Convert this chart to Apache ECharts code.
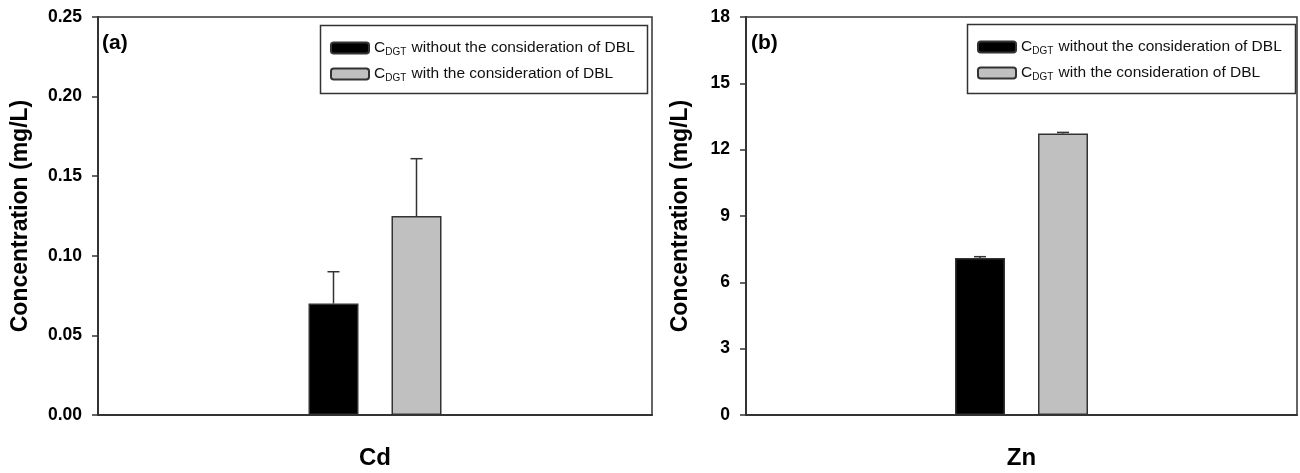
<!DOCTYPE html>
<html>
<head>
<meta charset="utf-8">
<script src="https://cdn.jsdelivr.net/npm/echarts@6/dist/echarts.min.js"></script>
<style>
  html, body { margin: 0; padding: 0; background: #fff; }
  #chart { width: 1300px; height: 473px; }
</style>
</head>
<body>
<div id="chart"></div>
<script>
  // data
  var seriesNames = ['CDGT without the consideration of DBL', 'CDGT with the consideration of DBL'];
  var cdCats = ['Cd'];
  var znCats = ['Zn'];
  var cdWithout = [0.070];
  var cdWith = [0.125];
  var cdWithoutErr = [0.090];
  var cdWithErr = [0.161];
  var znWithout = [7.10];
  var znWith = [12.73];
  var znWithoutErr = [7.16];
  var znWithErr = [12.78];
  var cdTicks = [0, 0.05, 0.10, 0.15, 0.20, 0.25];
  var znTicks = [0, 3, 6, 9, 12, 15, 18];

  var FONT = 'Liberation Sans';
  var BAR_W = 50;
  var BAR_GAP = 33;

  var chart = echarts.init(document.getElementById('chart'));

  // upper error bar, drawn from bar top to the error value
  function errRender(slot) {
    return function (params, api) {
      var top = api.coord([api.value(0), api.value(2)]);
      var base = api.coord([api.value(0), api.value(1)]);
      var off = (slot === 0 ? -1 : 1) * (BAR_W + BAR_GAP) / 2;
      var x = base[0] + off;
      var st = { stroke: '#333', lineWidth: 1.5 };
      return {
        type: 'group',
        children: [
          { type: 'line', shape: { x1: x, y1: base[1], x2: x, y2: top[1] }, style: st },
          { type: 'line', shape: { x1: x - 6, y1: top[1], x2: x + 6, y2: top[1] }, style: st }
        ]
      };
    };
  }

  function errData(vals, errs) {
    return vals.map(function (v, i) { return [i, v, errs[i]]; });
  }

  function yAxisOpt(gridIndex, ticks, gap, fmt) {
    return {
      type: 'value',
      gridIndex: gridIndex,
      min: ticks[0],
      max: ticks[ticks.length - 1],
      interval: ticks[1] - ticks[0],
      name: 'Concentration (mg/L)',
      nameLocation: 'middle',
      nameGap: gap,
      nameTextStyle: { fontFamily: FONT, fontWeight: 'bold', fontSize: 23, color: '#000' },
      axisLine: { show: true, lineStyle: { color: '#333', width: 2 } },
      axisTick: { show: true, inside: false, length: 6, lineStyle: { color: '#333', width: 1.5 } },
      axisLabel: { fontFamily: FONT, fontWeight: 'bold', fontSize: 17.5, color: '#000', margin: 16, formatter: fmt },
      splitLine: { show: false }
    };
  }

  function xAxisOpt(gridIndex, cats) {
    return {
      type: 'category',
      gridIndex: gridIndex,
      data: cats,
      axisLine: { show: true, lineStyle: { color: '#333', width: 2 } },
      axisTick: { show: false },
      axisLabel: { fontFamily: FONT, fontWeight: 'bold', fontSize: 24, color: '#000', margin: 31 }
    };
  }

  function barSeries(name, xi, data, color) {
    return {
      name: name,
      type: 'bar',
      xAxisIndex: xi,
      yAxisIndex: xi,
      data: data,
      barWidth: BAR_W,
      barGap: (BAR_GAP / BAR_W * 100) + '%',
      itemStyle: { color: color, borderColor: '#333', borderWidth: 1.5 },
      emphasis: { disabled: true }
    };
  }

  function legendOpt(left, top) {
    return {
      left: left,
      top: top,
      padding: 0,
      orient: 'vertical',
      itemWidth: 38,
      itemHeight: 11,
      itemGap: 8,
      data: seriesNames,
      selectedMode: false,
      textStyle: {
        fontFamily: FONT, fontSize: 15.5, color: '#111', lineHeight: 16,
        rich: {
          s: { fontFamily: FONT, fontSize: 10, color: '#111', lineHeight: 16, padding: [8, 1, 0, 0] }
        }
      },
      formatter: function (name) {
        return 'C{s|DGT}' + name.slice(4);
      }
    };
  }

  chart.setOption({
    animation: false,
    backgroundColor: '#fff',
    grid: [
      { left: 98, top: 17, width: 554, height: 398, show: true, borderColor: '#333', borderWidth: 1.5 },
      { left: 746, top: 17, width: 551, height: 398, show: true, borderColor: '#333', borderWidth: 1.5 }
    ],
    title: [
      { text: '(a)', left: 102, top: 33, padding: 0, textStyle: { fontFamily: FONT, fontWeight: 'bold', fontSize: 21, color: '#000' } },
      { text: '(b)', left: 751, top: 33, padding: 0, textStyle: { fontFamily: FONT, fontWeight: 'bold', fontSize: 21, color: '#000' } }
    ],
    legend: [legendOpt(330, 39), legendOpt(977, 38)],
    graphic: [
      { type: 'rect', shape: { x: 320.5, y: 25.5, width: 327, height: 68 }, style: { fill: 'none', stroke: '#333', lineWidth: 1.5 }, z: 10 },
      { type: 'rect', shape: { x: 967.5, y: 24.5, width: 328, height: 69 }, style: { fill: 'none', stroke: '#333', lineWidth: 1.5 }, z: 10 }
    ],
    xAxis: [xAxisOpt(0, cdCats), xAxisOpt(1, znCats)],
    yAxis: [
      yAxisOpt(0, cdTicks, 66, function (v) { return v.toFixed(2); }),
      yAxisOpt(1, znTicks, 54, function (v) { return String(v); })
    ],
    series: [
      barSeries(seriesNames[0], 0, cdWithout, '#000'),
      barSeries(seriesNames[1], 0, cdWith, '#c0c0c0'),
      barSeries(seriesNames[0], 1, znWithout, '#000'),
      barSeries(seriesNames[1], 1, znWith, '#c0c0c0'),
      { type: 'custom', xAxisIndex: 0, yAxisIndex: 0, renderItem: errRender(0), data: errData(cdWithout, cdWithoutErr), z: 5 },
      { type: 'custom', xAxisIndex: 0, yAxisIndex: 0, renderItem: errRender(1), data: errData(cdWith, cdWithErr), z: 5 },
      { type: 'custom', xAxisIndex: 1, yAxisIndex: 1, renderItem: errRender(0), data: errData(znWithout, znWithoutErr), z: 5 },
      { type: 'custom', xAxisIndex: 1, yAxisIndex: 1, renderItem: errRender(1), data: errData(znWith, znWithErr), z: 5 }
    ]
  });
</script>
</body>
</html>
